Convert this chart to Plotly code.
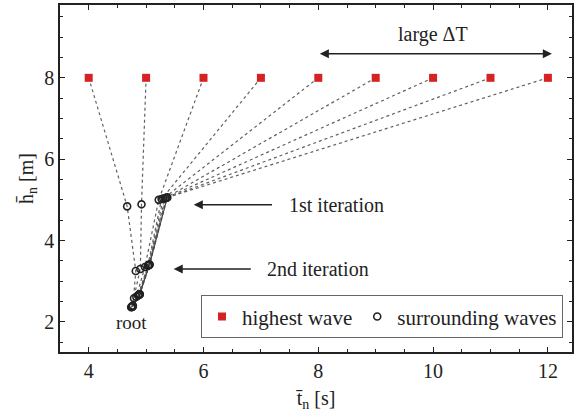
import plotly.graph_objects as go

# ---- data ----
T_high = [4, 5, 6, 7, 8, 9, 10, 11, 12]
h_high = [8, 8, 8, 8, 8, 8, 8, 8, 8]

it1_t = [4.67, 4.92, 5.22, 5.27, 5.30, 5.33, 5.35, 5.36, 5.37]
it1_h = [4.84, 4.89, 5.00, 5.02, 5.03, 5.04, 5.05, 5.05, 5.06]
it2_t = [4.82, 4.90, 4.98, 5.03, 5.04, 5.05, 5.05, 5.06, 5.06]
it2_h = [3.25, 3.30, 3.35, 3.38, 3.39, 3.40, 3.40, 3.41, 3.41]
it3_t = [4.77, 4.79, 4.83, 4.86, 4.87, 4.88, 4.88, 4.89, 4.89]
it3_h = [2.40, 2.58, 2.62, 2.65, 2.66, 2.67, 2.68, 2.68, 2.68]
root_t = [4.74, 4.75, 4.75, 4.76, 4.76, 4.76, 4.76, 4.76, 4.76]
root_h = [2.36, 2.37, 2.37, 2.38, 2.38, 2.38, 2.38, 2.38, 2.38]

x_ticks = [4, 6, 8, 10, 12]
y_ticks = [2, 4, 6, 8]

FONT = "Liberation Serif, Times New Roman, serif"
TXT = "#222222"

fig = go.Figure()

# dotted chains
lx, ly = [], []
for i in range(len(T_high)):
    lx += [T_high[i], it1_t[i], it2_t[i], it3_t[i], root_t[i], None]
    ly += [h_high[i], it1_h[i], it2_h[i], it3_h[i], root_h[i], None]
fig.add_trace(go.Scatter(x=lx, y=ly, mode="lines", showlegend=False,
                         line=dict(color="#606060", width=1.2, dash="dot"),
                         hoverinfo="skip"))

# solid segment along last chain
fig.add_trace(go.Scatter(x=[it1_t[-1], it2_t[-1], it3_t[-1], root_t[-1]],
                         y=[it1_h[-1], it2_h[-1], it3_h[-1], root_h[-1]],
                         mode="lines", showlegend=False,
                         line=dict(color="#444444", width=1.1),
                         hoverinfo="skip"))

fig.add_trace(go.Scatter(x=T_high, y=h_high, mode="markers", name="highest wave",
                         marker=dict(symbol="square", size=8, color="#d62222")))

fig.add_trace(go.Scatter(x=it1_t + it2_t + it3_t + root_t,
                         y=it1_h + it2_h + it3_h + root_h,
                         mode="markers", name="surrounding waves",
                         marker=dict(symbol="circle-open", size=7,
                                     color="#222222", line=dict(width=1.6))))

arrow_col = "#222222"
# large delta T double arrow
fig.add_annotation(x=12.07, y=8.59, ax=8.0, ay=8.59, xref="x", yref="y",
                   axref="x", ayref="y", text="", showarrow=True,
                   arrowhead=2, startarrowhead=2, arrowside="end+start",
                   arrowsize=1.3, startarrowsize=1.3, arrowwidth=1.4, arrowcolor=arrow_col)
fig.add_annotation(x=10.0, y=9.06, text="large ΔT", showarrow=False,
                   font=dict(family=FONT, size=20, color=TXT))

fig.add_annotation(x=5.83, y=4.88, ax=7.22, ay=4.88, xref="x", yref="y",
                   axref="x", ayref="y", text="", showarrow=True,
                   arrowhead=2, arrowsize=1.3, arrowwidth=1.4, arrowcolor=arrow_col)
fig.add_annotation(x=8.31, y=4.88, text="1st iteration", showarrow=False,
                   font=dict(family=FONT, size=20, color=TXT))

fig.add_annotation(x=5.48, y=3.30, ax=6.85, ay=3.30, xref="x", yref="y",
                   axref="x", ayref="y", text="", showarrow=True,
                   arrowhead=2, arrowsize=1.3, arrowwidth=1.4, arrowcolor=arrow_col)
fig.add_annotation(x=8.0, y=3.30, text="2nd iteration", showarrow=False,
                   font=dict(family=FONT, size=20, color=TXT))

fig.add_annotation(x=4.75, y=1.99, text="root", showarrow=False,
                   font=dict(family=FONT, size=19, color=TXT))

axis_common = dict(showline=True, linecolor=TXT, linewidth=1.5, mirror="ticks",
                   ticks="inside", ticklen=5, tickwidth=1.2, tickcolor=TXT,
                   showgrid=False, zeroline=False, automargin=False,
                   tickfont=dict(family=FONT, size=20, color=TXT))

fig.update_xaxes(range=[3.5, 12.42], tickvals=x_ticks, ticktext=[str(v) for v in x_ticks],
                 minor=dict(dtick=0.5, ticks="inside", ticklen=3, tickcolor=TXT, showgrid=False),
                 title=dict(text="t\u0304<sub>n</sub> [s]", font=dict(family=FONT, size=20, color=TXT),
                            standoff=10),
                 **axis_common)
fig.update_yaxes(range=[1.26, 9.79], tickvals=y_ticks, ticktext=[str(v) for v in y_ticks],
                 minor=dict(dtick=0.5, ticks="inside", ticklen=3, tickcolor=TXT, showgrid=False),
                 title=dict(text="h\u0304<sub>n</sub> [m]", font=dict(family=FONT, size=20, color=TXT),
                            standoff=5),
                 **axis_common)

fig.update_layout(width=576, height=417, margin=dict(l=60, r=4, t=5, b=65),
                  font=dict(family=FONT, size=20, color=TXT),
                  paper_bgcolor="white", plot_bgcolor="white",
                  legend=dict(orientation="h", x=0.982, y=0.04, xanchor="right", yanchor="bottom",
                              bordercolor="#666666", borderwidth=1.2, bgcolor="white",
                              font=dict(family=FONT, size=21, color=TXT),
                              itemwidth=30, tracegroupgap=0))

fig.write_html("out.html", config={"displayModeBar": False},
               post_script="document.body.style.margin='0';document.body.style.padding='0';")
